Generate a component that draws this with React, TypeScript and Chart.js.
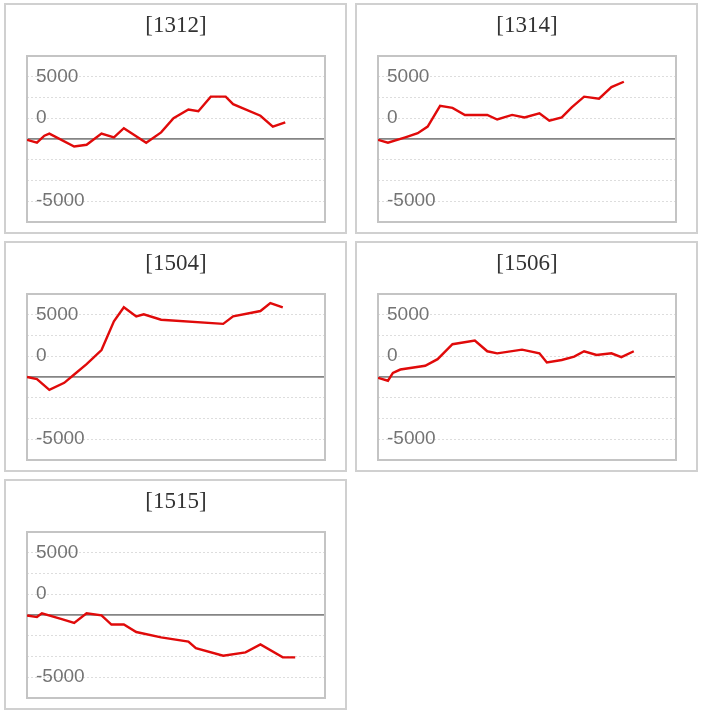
import React, { useEffect, useRef } from "react";
import { Chart, registerables } from "chart.js";

Chart.register(...registerables);

// ---- data ----
const titles = ["[1312]", "[1314]", "[1504]", "[1506]", "[1515]"];

const days1312 = [0, 4, 7, 9, 19, 24, 30, 35, 39, 48, 54, 59, 65, 69, 74, 80, 83, 94, 99, 104];
const values1312 = [-100, -450, 400, 650, -900, -700, 650, 200, 1300, -450, 800, 2500, 3550, 3350, 5100, 5100, 4200, 2800, 1500, 2000];

const days1314 = [0, 4, 11, 16, 20, 25, 30, 35, 44, 48, 54, 59, 65, 69, 74, 78, 83, 89, 94, 99];
const values1314 = [-100, -450, 200, 700, 1500, 4000, 3750, 2900, 2900, 2350, 2900, 2600, 3100, 2200, 2600, 3800, 5100, 4850, 6250, 6900];

const days1504 = [0, 4, 9, 15, 19, 24, 30, 35, 39, 44, 47, 54, 79, 83, 94, 98, 103];
const values1504 = [0, -250, -1550, -700, 300, 1550, 3250, 6700, 8400, 7300, 7550, 6900, 6400, 7300, 7950, 8900, 8400];

const days1506 = [0, 4, 6, 9, 19, 24, 30, 39, 44, 48, 58, 65, 68, 74, 79, 83, 88, 94, 98, 103];
const values1506 = [-100, -450, 500, 900, 1350, 2150, 3950, 4400, 3100, 2850, 3300, 2850, 1750, 2050, 2450, 3100, 2650, 2850, 2400, 3100];

const days1515 = [0, 4, 6, 14, 19, 24, 30, 34, 39, 44, 54, 65, 68, 79, 88, 94, 103, 108];
const values1515 = [-50, -250, 200, -500, -950, 200, -50, -1150, -1150, -2050, -2700, -3200, -4000, -4900, -4500, -3550, -5100, -5100];

const seriesDays = [days1312, days1314, days1504, days1506, days1515];
const seriesValues = [values1312, values1314, values1504, values1506, values1515];

const yTickValues = [7500, 2500, -7500];
const yTickLabels = ["5000", "0", "-5000"];

const CANVAS_W = 339;
const CANVAS_H = 227;

const plotBorder = {
  id: "plotBorder",
  beforeDatasetsDraw(chart: any) {
    const { ctx, chartArea } = chart;
    ctx.save();
    ctx.strokeStyle = "#c4c4c4";
    ctx.lineWidth = 2;
    ctx.strokeRect(chartArea.left, chartArea.top, chartArea.right - chartArea.left, chartArea.bottom - chartArea.top);
    ctx.restore();
  },
};

function Panel({ idx }: { idx: number }) {
  const ref = useRef<HTMLCanvasElement | null>(null);
  useEffect(() => {
    if (!ref.current) return;
    const days = seriesDays[idx];
    const vals = seriesValues[idx];
    const chart = new Chart(ref.current, {
      type: "line",
      data: {
        datasets: [
          {
            data: days.map((d, i) => ({ x: d, y: vals[i] })),
            borderColor: "#e00a0a",
            borderWidth: 2.4,
            pointRadius: 0,
            tension: 0,
            fill: false,
          },
        ],
      },
      options: {
        animation: false,
        responsive: false,
        devicePixelRatio: 1,
        layout: { padding: { left: 21, right: 20, top: 0, bottom: 10 } },
        plugins: {
          legend: { display: false },
          tooltip: { enabled: false },
          title: {
            display: true,
            text: titles[idx],
            color: "#333",
            font: { family: "'Liberation Serif', serif", size: 23, weight: "normal" },
            padding: { top: 7.5, bottom: 15.9 },
          },
        },
        scales: {
          x: { type: "linear", min: 0, max: 120, display: false },
          y: {
            min: -10000,
            max: 10000,
            afterFit: (s: any) => {
              s.width = 0;
              s.paddingTop = 0;
              s.paddingBottom = 0;
            },
            ticks: {
              stepSize: 2500,
              autoSkip: false,
              mirror: true,
              padding: 9,
              color: "#747474",
              font: { family: "'Liberation Sans', Arial, sans-serif", size: 19 },
              callback: (v: any) => {
                const k = yTickValues.indexOf(Number(v));
                return k >= 0 ? yTickLabels[k] : "";
              },
            },
            grid: {
              drawTicks: false,
              color: (c: any) => (c.tick && c.tick.value === 0 ? "#858585" : "#dddddd"),
              lineWidth: (c: any) => (c.tick && c.tick.value === 0 ? 1.8 : 1),
            },
            border: {
              display: false,
              dash: (c: any) => (c.tick && c.tick.value === 0 ? [] : [2, 2]),
            },
          },
        },
      },
      plugins: [plotBorder],
    } as any);
    return () => chart.destroy();
  }, [idx]);
  return (
    <div
      style={{
        border: "2px solid #d0d0d0",
        width: CANVAS_W,
        height: CANVAS_H,
        boxSizing: "content-box",
      }}
    >
      <canvas ref={ref} width={CANVAS_W} height={CANVAS_H} style={{ display: "block", width: CANVAS_W, height: CANVAS_H }} />
    </div>
  );
}

export default function App() {
  return (
    <div
      style={{
        position: "absolute",
        left: 4,
        top: 3,
        display: "grid",
        gridTemplateColumns: "343px 343px",
        columnGap: 8,
        rowGap: 7,
      }}
    >
      {titles.map((t, i) => (
        <Panel key={t} idx={i} />
      ))}
    </div>
  );
}
